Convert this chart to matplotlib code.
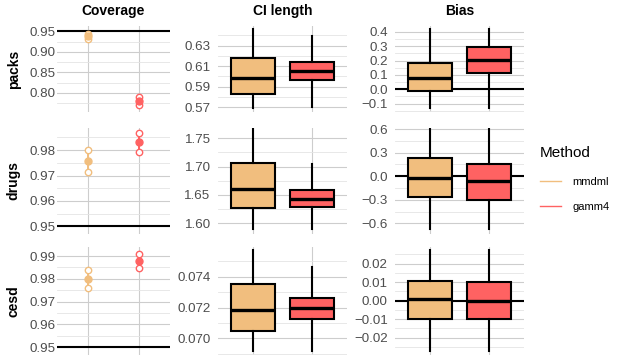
import matplotlib
matplotlib.use("Agg")
import matplotlib.pyplot as plt
from matplotlib.lines import Line2D
from matplotlib.ticker import FixedLocator

plt.rcParams['font.family'] = ['Liberation Sans', 'DejaVu Sans']

# ---------------- data ----------------
methods = ['mmdml', 'gamm4']
outcomes = ['packs', 'drugs', 'cesd']
metrics = ['Coverage', 'CI length', 'Bias']

# coverage: estimate and interval per outcome (rows) per method
cov_est = [[0.9376, 0.7810], [0.9756, 0.9830], [0.9800, 0.9878]]
cov_lo = [[0.9314, 0.7705], [0.9712, 0.9793], [0.9761, 0.9848]]
cov_hi = [[0.9438, 0.7913], [0.9800, 0.9867], [0.9839, 0.9909]]
cov_target = 0.95

# CI length boxplot stats per outcome per method
ci_lo = [[0.5690, 0.5700], [1.5894, 1.5900], [0.06919, 0.06920]]
ci_q1 = [[0.5830, 0.5966], [1.6265, 1.6282], [0.07049, 0.07127]]
ci_med = [[0.5988, 0.6054], [1.6600, 1.6434], [0.07182, 0.07195]]
ci_q3 = [[0.6180, 0.6141], [1.7059, 1.6582], [0.07353, 0.07262]]
ci_hi = [[0.6460, 0.6397], [1.7664, 1.7046], [0.07573, 0.07465]]

# Bias boxplot stats per outcome per method
bias_lo = [[-0.132, -0.132], [-0.678, -0.678], [-0.0270, -0.0270]]
bias_q1 = [[-0.014, 0.1153], [-0.271, -0.301], [-0.0099, -0.0101]]
bias_med = [[0.0764, 0.2035], [-0.021, -0.067], [0.0008, -0.0002]]
bias_q3 = [[0.1806, 0.2960], [0.233, 0.149], [0.0108, 0.0099]]
bias_hi = [[0.4167, 0.4167], [0.598, 0.598], [0.0274, 0.0274]]

# axis ticks
cov_ticks = [[0.80, 0.85, 0.90, 0.95], [0.95, 0.96, 0.97, 0.98], [0.95, 0.96, 0.97, 0.98, 0.99]]
ci_ticks = [[0.57, 0.59, 0.61, 0.63], [1.60, 1.65, 1.70, 1.75], [0.070, 0.072, 0.074]]
bias_ticks = [[-0.1, 0.0, 0.1, 0.2, 0.3, 0.4], [-0.6, -0.3, 0.0, 0.3, 0.6], [-0.02, -0.01, 0.00, 0.01, 0.02]]
cov_fmt = ['%.2f', '%.2f', '%.2f']
ci_fmt = ['%.2f', '%.2f', '%.3f']
bias_fmt = ['%.1f', '%.1f', '%.2f']

# axis limits
cov_lim = [(0.7537, 0.9630), (0.9470, 0.9887), (0.9465, 0.9940)]
ci_lim = [(0.5654, 0.6492), (1.5811, 1.7682), (0.06892, 0.07593)]
bias_lim = [(-0.158, 0.440), (-0.736, 0.613), (-0.0294, 0.0290)]

# ---------------- style ----------------
colors = ['#F1BE7E', '#FF6262']
W, H = 623, 363
cols_px = [(57.4, 169.6), (217.6, 347.4), (394.6, 524.4)]
rows_px = [(26, 112), (128, 234), (247, 355)]
major_c = '#CDCDCD'
minor_c = '#E4E4E4'
tick_c = '#4D4D4D'

fig = plt.figure(figsize=(W / 100, H / 100), dpi=100)


def make_ax(r, c):
    x0, x1 = cols_px[c]
    y0, y1 = rows_px[r]
    ax = fig.add_axes([x0 / W, 1 - y1 / H, (x1 - x0) / W, (y1 - y0) / H])
    for s in ax.spines.values():
        s.set_visible(False)
    ax.set_xlim(0.4, 2.6)
    ax.set_xticks([1, 2])
    ax.set_xticklabels([])
    ax.tick_params(axis='x', length=0)
    ax.tick_params(axis='y', length=0, labelsize=9.6, labelcolor=tick_c,
                   pad=1.6 if c == 0 else 5.0)
    ax.grid(True, which='major', axis='both', color=major_c, lw=0.8, zorder=0)
    ax.set_axisbelow(True)
    return ax


def set_y(ax, ticks, fmt, lim):
    ax.set_ylim(*lim)
    ax.yaxis.set_major_locator(FixedLocator(ticks))
    step = ticks[1] - ticks[0]
    minors = [ticks[0] - step / 2 + k * step for k in range(len(ticks) + 1)]
    minors = [m for m in minors if lim[0] <= m <= lim[1]]
    ax.yaxis.set_minor_locator(FixedLocator(minors))
    ax.tick_params(axis='y', which='minor', length=0)
    ax.grid(True, which='minor', axis='y', color=minor_c, lw=0.6, zorder=0)
    ax.set_yticklabels([(fmt % t).replace('-', '\u2212') for t in ticks])


def boxes(ax, lo, q1, med, q3, hi):
    stats = []
    for i in range(2):
        stats.append(dict(whislo=lo[i], q1=q1[i], med=med[i], q3=q3[i], whishi=hi[i], fliers=[]))
    bp = ax.bxp(stats, positions=[1, 2], widths=0.75, showcaps=False, patch_artist=True,
                boxprops=dict(edgecolor='black', lw=1.5),
                whiskerprops=dict(color='black', lw=1.5),
                medianprops=dict(color='black', lw=2.4, solid_capstyle='butt'),
                manage_ticks=False, zorder=3)
    for patch, col in zip(bp['boxes'], colors):
        patch.set_facecolor(col)
    return bp


for r in range(3):
    # coverage
    ax = make_ax(r, 0)
    set_y(ax, cov_ticks[r], cov_fmt[r], cov_lim[r])
    ax.axhline(cov_target, color='black', lw=1.5, zorder=2)
    for i in range(2):
        x = i + 1
        ax.plot([x, x], [cov_lo[r][i], cov_hi[r][i]], color=colors[i], lw=1.4, zorder=3)
        ax.plot([x, x], [cov_lo[r][i], cov_hi[r][i]], ls='none', marker='o', ms=4.6,
                mfc='white', mec=colors[i], mew=1.0, zorder=4)
        ax.plot([x], [cov_est[r][i]], ls='none', marker='o', ms=5.0,
                mfc=colors[i], mec=colors[i], zorder=5)
    ax.set_ylabel(outcomes[r], fontsize=10, fontweight='bold', labelpad=6)
    if r == 0:
        ax.set_title(metrics[0], fontsize=10, fontweight='bold', pad=8)

    # CI length
    ax = make_ax(r, 1)
    set_y(ax, ci_ticks[r], ci_fmt[r], ci_lim[r])
    boxes(ax, ci_lo[r], ci_q1[r], ci_med[r], ci_q3[r], ci_hi[r])
    if r == 0:
        ax.set_title(metrics[1], fontsize=10, fontweight='bold', pad=8)

    # Bias
    ax = make_ax(r, 2)
    set_y(ax, bias_ticks[r], bias_fmt[r], bias_lim[r])
    ax.axhline(0, color='black', lw=1.5, zorder=2)
    boxes(ax, bias_lo[r], bias_q1[r], bias_med[r], bias_q3[r], bias_hi[r])
    if r == 0:
        ax.set_title(metrics[2], fontsize=10, fontweight='bold', pad=8)

handles = [Line2D([0], [0], color=c, lw=1.0) for c in colors]
leg = fig.legend(handles, methods, title='Method', loc='upper left',
                 bbox_to_anchor=(540 / W, 1 - 146 / H), frameon=False,
                 fontsize=8, title_fontsize=11, handlelength=1.9,
                 labelspacing=1.35, handletextpad=1.0, borderaxespad=0,
                 borderpad=0)
leg._legend_box.align = 'left'
leg._legend_box.sep = 12

fig.savefig('out.png', dpi=100)
